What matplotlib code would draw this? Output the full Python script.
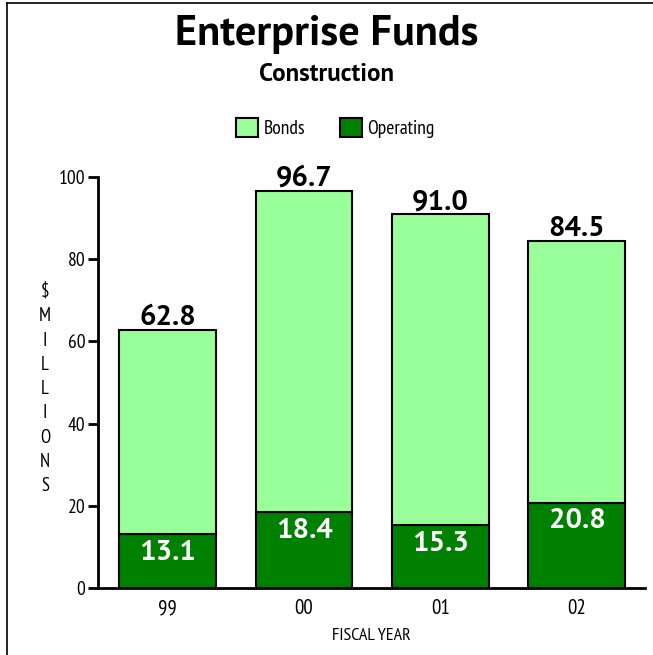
import matplotlib.pyplot as plt
from matplotlib.lines import Line2D

# data
years = ['99', '00', '01', '02']
operating = [13.1, 18.4, 15.3, 20.8]
totals = [62.8, 96.7, 91.0, 84.5]
bonds = [t - o for t, o in zip(totals, operating)]

light = '#99FF99'
dark = '#008000'
cond = ['PT Sans Narrow', 'DejaVu Sans']
bold = ['PT Sans', 'DejaVu Sans']

fig = plt.figure(figsize=(6.53, 6.55), dpi=100)
ax = fig.add_axes([0.150, 0.1023, 0.838, 0.6275])

x = list(range(len(years)))
ax.bar(x, operating, width=0.71, color=dark, edgecolor='black', linewidth=1.5, label='Operating')
ax.bar(x, bonds, width=0.71, bottom=operating, color=light, edgecolor='black', linewidth=1.5, label='Bonds')

for i in x:
	ax.annotate('%.1f' % totals[i], (i, totals[i]), xytext=(0, -1), textcoords='offset points',
		ha='center', va='bottom', fontsize=21, fontweight='bold', family=bold)
	ax.annotate('%.1f' % operating[i], (i, operating[i]), xytext=(0, -4), textcoords='offset points',
		ha='center', va='top', fontsize=21, fontweight='bold', color='white', family=bold)

ax.set_xlim(-0.51, 3.5)
ax.set_ylim(0, 100)
ax.set_yticks([0, 20, 40, 60, 80, 100])
ax.set_xticks(x)
ax.set_xticklabels(years, family=cond, fontsize=15)
for lab in ax.get_yticklabels():
	lab.set_family(cond)
	lab.set_fontsize(14)
ax.tick_params(axis='y', length=7, width=2, pad=2)
ax.tick_params(axis='x', length=0, pad=8)
for s in ['top', 'right']:
	ax.spines[s].set_visible(False)
for s in ['left', 'bottom']:
	ax.spines[s].set_linewidth(2)

ax.set_xlabel('FISCAL YEAR', family=cond, fontsize=13, labelpad=7)
fig.text(0.069, 0.568, '\\$\nM\nI\nL\nL\nI\nO\nN\nS', ha='center', va='top',
	family=cond, fontsize=13.5, linespacing=1.45)

fig.text(0.5, 0.947, 'Enterprise Funds', ha='center', va='center', fontsize=30.5, fontweight='bold', family=bold)
fig.text(0.5, 0.886, 'Construction', ha='center', va='center', fontsize=18, fontweight='bold', family=bold)

h, l = ax.get_legend_handles_labels()
fig.legend(h[::-1], l[::-1], loc='center', bbox_to_anchor=(0.514, 0.804), ncol=2, frameon=False,
	handlelength=1.1, handleheight=1.1, columnspacing=1.8, handletextpad=0.3,
	prop={'family': cond, 'size': 14})

# frame lines at top and left of the picture
fig.add_artist(Line2D([7 / 653.0, 1], [1 - 3 / 655.0, 1 - 3 / 655.0], color='black', linewidth=1.2))
fig.add_artist(Line2D([7 / 653.0, 7 / 653.0], [0, 1 - 3 / 655.0], color='black', linewidth=1.2))

fig.savefig('out.png', dpi=100)
